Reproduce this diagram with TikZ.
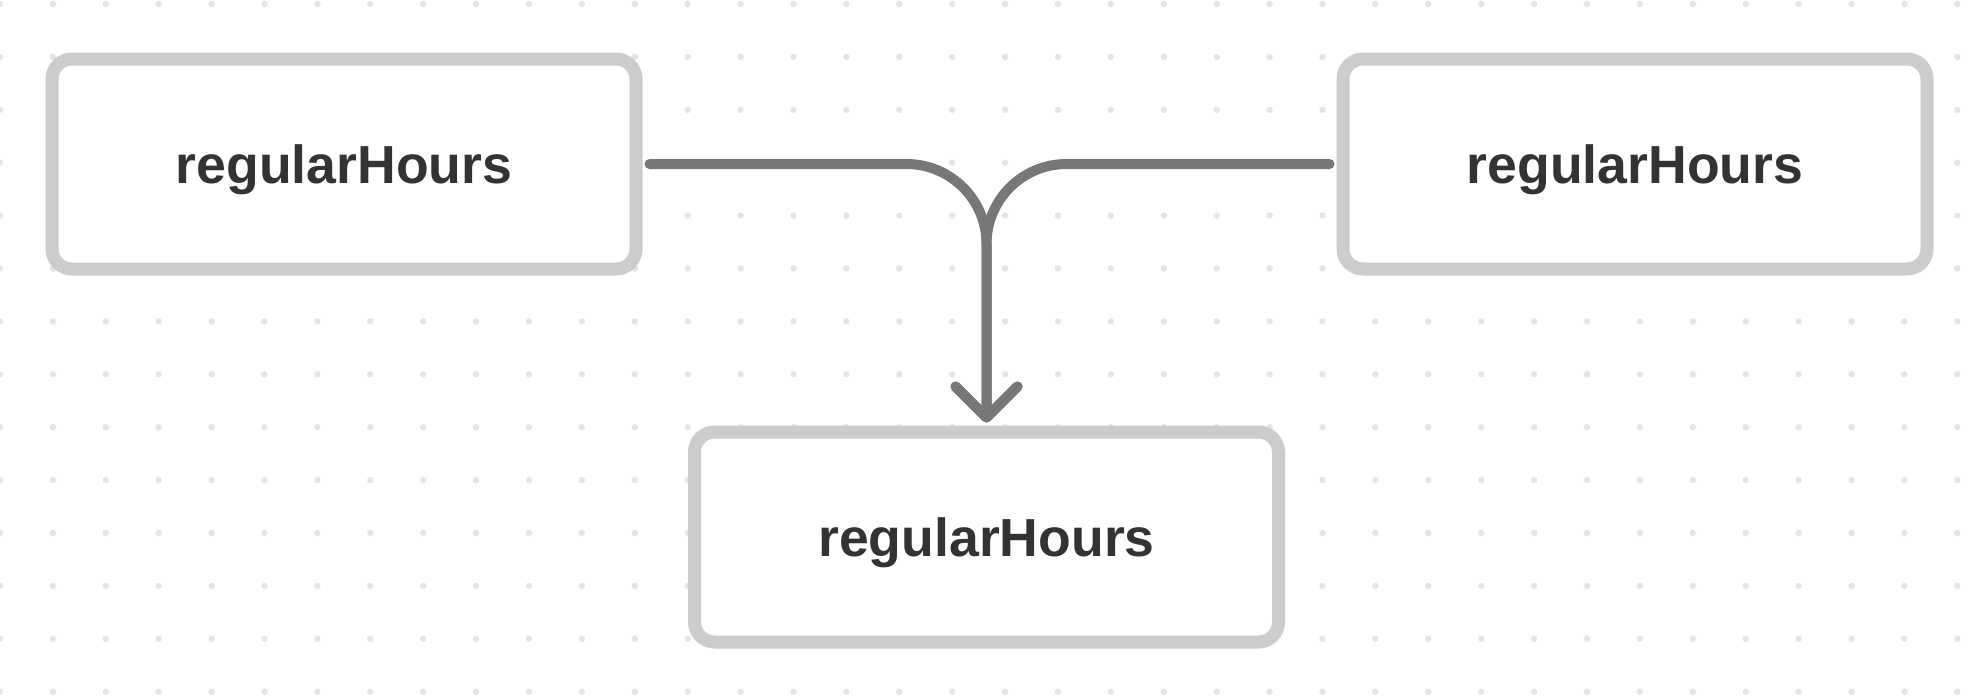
\documentclass[tikz,border=0pt]{standalone}
\usepackage{fontspec}
\setmainfont{Liberation Sans}
\usetikzlibrary{arrows.meta}
\definecolor{boxgray}{HTML}{CCCCCC}
\definecolor{linegray}{HTML}{777777}
\definecolor{textgray}{HTML}{333333}
\definecolor{dotgray}{HTML}{E4E4E4}
\begin{document}
\begin{tikzpicture}[x=0.5pt, y=-0.5pt,
    field/.style={draw=boxgray, line width=6.5pt, fill=white, rounded corners=10pt,
      minimum width=292pt, minimum height=105pt, text=textgray, text depth=0pt,
      font=\fontsize{26.8pt}{32pt}\selectfont\bfseries},
    link/.style={draw=linegray, line width=5pt, line cap=round, line join=round,
      rounded corners=40pt, -{Straight Barb[length=15.5pt, width=31pt, round]}}]

    % Canvas
    \fill[white] (0,0) rectangle (1974,696);
    \useasboundingbox (0,0) rectangle (1974,696);
    \foreach \i in {0,...,37}
      \foreach \j in {0,...,13}
        \fill[dotgray] (\i*52.9, 4+\j*52.9) circle (1.6pt);

    % Fields
    \node[field] (hoursA) at (344,164) {regularHours};
    \node[field] (hoursB) at (1635,164) {regularHours};
    \node[field] (hoursC) at (986.5,537) {regularHours};

    % Connections
    \draw[link] ([xshift=3.5pt]hoursA.east) -| ([yshift=1.5pt]hoursC.north);
    \draw[link] ([xshift=-3.5pt]hoursB.west) -| ([yshift=1.5pt]hoursC.north);
\end{tikzpicture}
\end{document}
